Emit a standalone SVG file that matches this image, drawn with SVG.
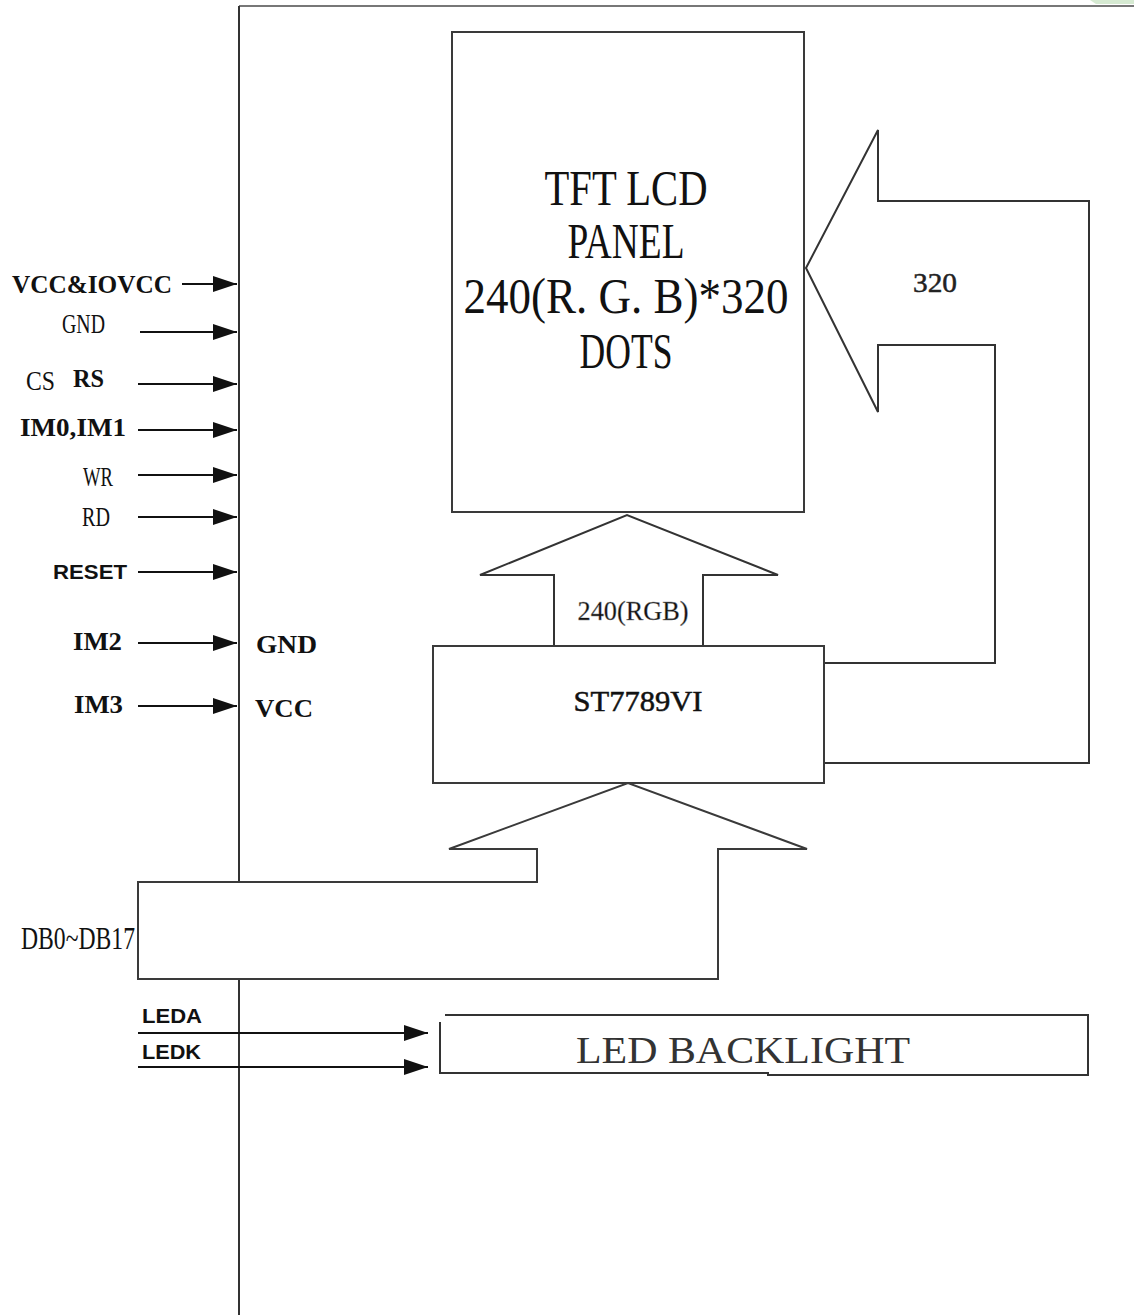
<svg xmlns="http://www.w3.org/2000/svg" width="1134" height="1315" viewBox="0 0 1134 1315">
<style>
  .ln{fill:none;stroke:#333;stroke-width:2;stroke-linejoin:miter}
  .shape{fill:#fff;stroke:#3a3a3a;stroke-width:2}
  .sig{stroke:#111;stroke-width:2;fill:none}
  .nar{font-family:"Liberation Serif","DejaVu Serif",serif;fill:#111}
  .bs{font-family:"Liberation Serif","DejaVu Serif",serif;font-weight:bold;fill:#111}
  .ss{font-family:"Liberation Sans",Arial,sans-serif;font-weight:bold;fill:#111}
</style>
<defs>
  <marker id="ah" markerWidth="24" markerHeight="16" refX="24" refY="8" orient="auto" markerUnits="userSpaceOnUse">
    <path d="M0,0 L24,8 L0,16 Z" fill="#111"/>
  </marker>
</defs>
<rect width="1134" height="1315" fill="#fff"/>
<path d="M1090,0 L1134,0 L1134,4 L1096,4 Z" fill="#d6eAd2"/>

<g id="frame">
  <line x1="239" y1="6" x2="1134" y2="6" stroke="#777" stroke-width="2"/>
  <line x1="239" y1="6" x2="239" y2="1315" stroke="#333" stroke-width="2"/>
</g>

<g id="lcd-panel">
  <rect x="452" y="32" width="352" height="480" class="shape"/>
  <text class="nar" x="626" y="205" font-size="50" text-anchor="middle" textLength="163" lengthAdjust="spacingAndGlyphs" fill="#333">TFT LCD</text>
  <text class="nar" x="626" y="258" font-size="50" text-anchor="middle" textLength="117" lengthAdjust="spacingAndGlyphs" fill="#333">PANEL</text>
  <text class="nar" x="626" y="313" font-size="50" text-anchor="middle" textLength="325" lengthAdjust="spacingAndGlyphs" fill="#333">240(R. G. B)*320</text>
  <text class="nar" x="626" y="368" font-size="50" text-anchor="middle" textLength="93" lengthAdjust="spacingAndGlyphs" fill="#333">DOTS</text>
</g>

<g id="connectors">
  <path class="ln" d="M554,646 L554,575 L480,575 L627,515 L778,575 L703,575 L703,646"/>
  <path class="ln" d="M824,763 L1089,763 L1089,201 L878,201 L878,130 L806,268 L878,412 L878,345 L995,345 L995,663 L824,663"/>
  <line class="sig" x1="182" y1="284" x2="237" y2="284" marker-end="url(#ah)"/>
  <line class="sig" x1="140" y1="332" x2="237" y2="332" marker-end="url(#ah)"/>
  <line class="sig" x1="138" y1="384" x2="237" y2="384" marker-end="url(#ah)"/>
  <line class="sig" x1="138" y1="430" x2="237" y2="430" marker-end="url(#ah)"/>
  <line class="sig" x1="138" y1="475" x2="237" y2="475" marker-end="url(#ah)"/>
  <line class="sig" x1="138" y1="517" x2="237" y2="517" marker-end="url(#ah)"/>
  <line class="sig" x1="138" y1="572" x2="237" y2="572" marker-end="url(#ah)"/>
  <line class="sig" x1="138" y1="643" x2="237" y2="643" marker-end="url(#ah)"/>
  <line class="sig" x1="138" y1="706" x2="237" y2="706" marker-end="url(#ah)"/>
  <line class="sig" x1="138" y1="1033" x2="428" y2="1033" marker-end="url(#ah)"/>
  <line class="sig" x1="138" y1="1067" x2="428" y2="1067" marker-end="url(#ah)"/>
</g>

<g id="st7789">
  <rect x="433" y="646" width="391" height="137" class="shape"/>
  <text class="nar" x="638" y="711" font-size="29" text-anchor="middle" textLength="129" lengthAdjust="spacingAndGlyphs" stroke="#111" stroke-width="0.5">ST7789VI</text>
  <text class="nar" x="633" y="620" font-size="27" text-anchor="middle" textLength="111" lengthAdjust="spacingAndGlyphs" fill="#888" stroke="#888" stroke-width="0.4">240(RGB)</text>
</g>

<g id="db-bus">
  <path class="shape" d="M537,849 L537,882 L138,882 L138,979 L718,979 L718,849 L807,849 L628,783 L449,849 Z"/>
  <text class="nar" x="21" y="949" font-size="31" textLength="114" lengthAdjust="spacingAndGlyphs">DB0~DB17</text>
</g>

<g id="led-backlight">
  <path d="M445,1015 L1088,1015 L1088,1075 L768,1075 L768,1073 L440,1073 L440,1022" fill="#fff" stroke="#333" stroke-width="2"/>
  <text x="743" y="1063" font-family="'Liberation Serif','DejaVu Serif',serif" font-size="38" text-anchor="middle" textLength="334" lengthAdjust="spacingAndGlyphs" fill="#333">LED BACKLIGHT</text>
</g>

<g id="labels">
  <text class="bs" x="12" y="293" font-size="26" textLength="160" lengthAdjust="spacingAndGlyphs">VCC&amp;IOVCC</text>
  <text class="nar" x="62" y="333" font-size="28" textLength="43" lengthAdjust="spacingAndGlyphs">GND</text>
  <text class="nar" x="26" y="390" font-size="28" textLength="29" lengthAdjust="spacingAndGlyphs">CS</text>
  <text class="bs" x="73" y="387" font-size="25" textLength="31" lengthAdjust="spacingAndGlyphs">RS</text>
  <text class="bs" x="20" y="436" font-size="25" textLength="106" lengthAdjust="spacingAndGlyphs">IM0,IM1</text>
  <text class="nar" x="83" y="486" font-size="28" textLength="30" lengthAdjust="spacingAndGlyphs">WR</text>
  <text class="nar" x="82" y="526" font-size="28" textLength="28" lengthAdjust="spacingAndGlyphs">RD</text>
  <text class="ss" x="53" y="579" font-size="21" textLength="74" lengthAdjust="spacingAndGlyphs" fill="#1c2740">RESET</text>
  <text class="bs" x="73" y="650" font-size="26" textLength="49" lengthAdjust="spacingAndGlyphs">IM2</text>
  <text class="bs" x="74" y="713" font-size="26" textLength="49" lengthAdjust="spacingAndGlyphs">IM3</text>
  <text class="bs" x="256" y="653" font-size="25" textLength="61" lengthAdjust="spacingAndGlyphs">GND</text>
  <text class="bs" x="255" y="717" font-size="25" textLength="58" lengthAdjust="spacingAndGlyphs">VCC</text>
  <text class="ss" x="142" y="1023" font-size="21" textLength="60" lengthAdjust="spacingAndGlyphs">LEDA</text>
  <text class="ss" x="142" y="1059" font-size="21" textLength="59" lengthAdjust="spacingAndGlyphs">LEDK</text>
  <text x="935" y="292" font-family="'Liberation Serif','DejaVu Serif',serif" font-size="28" text-anchor="middle" textLength="44" lengthAdjust="spacingAndGlyphs" fill="#222" stroke="#222" stroke-width="0.5">320</text>
</g>
</svg>
